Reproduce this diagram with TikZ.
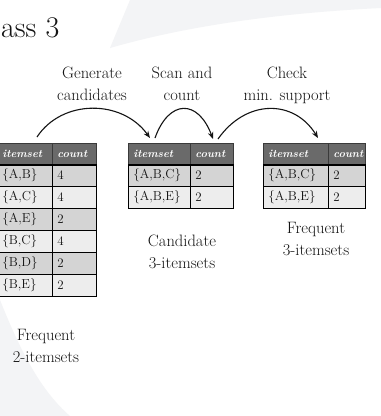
\documentclass[tikz,border=0pt]{standalone}
\usetikzlibrary{arrows.meta}
\definecolor{ink}{HTML}{141414}
\definecolor{hdr}{HTML}{6A6A6A}
\definecolor{hdrline}{HTML}{3A3A3A}
\definecolor{rowdark}{HTML}{D4D4D4}
\definecolor{rowlight}{HTML}{EDEDED}
\definecolor{swoosh}{HTML}{F3F4F6}
\begin{document}
\begin{tikzpicture}[x=1pt,y=-1pt,
  cellbase/.style={draw=black, line width=0.7pt, anchor=north west,
    inner xsep=5pt, inner ysep=0pt, align=left, text=ink,
    font=\fontsize{13}{13}\selectfont},
  hcell/.style={cellbase, fill=hdr, draw=hdrline, text=white,
    font=\fontsize{11}{11}\selectfont\bfseries\itshape, minimum height=21pt},
  bcell/.style={cellbase, minimum height=22pt},
  rule/.style={line width=2.2pt, black},
  lbl/.style={anchor=base, inner sep=0pt, text=ink,
    font=\fontsize{16.5}{20}\selectfont},
  flow/.style={line width=1.1pt, ink, -{Stealth[length=7pt,width=5.5pt]}}]

\useasboundingbox (0,0) rectangle (381,416);
\clip (0,0) rectangle (381,416);

% faint slide background swooshes
\fill[white] (0,0) rectangle (381,416);
\fill[swoosh] (130,0) -- (381,0) -- (381,8)
  .. controls (300,12) and (200,22) .. (110,48) -- cycle;
\fill[swoosh] (0,300) .. controls (20,350) and (40,390) .. (70,416) -- (0,416) -- cycle;

% slide title
\node[anchor=base west, inner sep=0pt, text=ink, font=\fontsize{30}{36}\selectfont]
  (title) at (1,37) {ass 3};

% frequent 2-itemsets table
\node[hcell, text width=45pt] (L-h1) at (-3,143) {itemset};
\node[hcell, text width=34pt] (L-h2) at (52,143) {count};
\foreach \itm/\num/\shade [count=\i from 0] in
  {{\{A,B\}}/4/rowdark, {\{A,C\}}/4/rowlight, {\{A,E\}}/2/rowdark,
   {\{B,C\}}/4/rowlight, {\{B,D\}}/2/rowdark, {\{B,E\}}/2/rowlight} {
  \node[bcell, text width=45pt, fill=\shade] (L-r\i-a) at (-3,164+22*\i) {\itm};
  \node[bcell, text width=34pt, fill=\shade] (L-r\i-b) at (52,164+22*\i) {\num};
}
\draw[rule] (L-h1.south west) -- (L-h2.south east);

% candidate 3-itemsets table
\node[hcell, text width=52pt] (M-h1) at (128,143) {itemset};
\node[hcell, text width=33pt] (M-h2) at (190,143) {count};
\foreach \itm/\num/\shade [count=\i from 0] in
  {{\{A,B,C\}}/2/rowdark, {\{A,B,E\}}/2/rowlight} {
  \node[bcell, text width=52pt, fill=\shade] (M-r\i-a) at (128,164+22*\i) {\itm};
  \node[bcell, text width=33pt, fill=\shade] (M-r\i-b) at (190,164+22*\i) {\num};
}
\draw[rule] (M-h1.south west) -- (M-h2.south east);

% frequent 3-itemsets table
\node[hcell, text width=55pt] (R-h1) at (263,143) {itemset};
\node[hcell, text width=27pt] (R-h2) at (328,143) {count};
\foreach \itm/\num/\shade [count=\i from 0] in
  {{\{A,B,C\}}/2/rowdark, {\{A,B,E\}}/2/rowlight} {
  \node[bcell, text width=55pt, fill=\shade] (R-r\i-a) at (263,164+22*\i) {\itm};
  \node[bcell, text width=27pt, fill=\shade] (R-r\i-b) at (328,164+22*\i) {\num};
}
\draw[rule] (R-h1.south west) -- (R-h2.south east);

% step labels
\node[lbl] (gen1) at (92,78) {Generate};
\node[lbl] (gen2) at (92,100) {candidates};
\node[lbl] (scan1) at (182,78) {Scan and};
\node[lbl] (scan2) at (182,100) {count};
\node[lbl] (chk1) at (287,78) {Check};
\node[lbl] (chk2) at (287,100) {min. support};

% table captions
\node[lbl] (capL1) at (46,340) {Frequent};
\node[lbl] (capL2) at (46,362) {2-itemsets};
\node[lbl] (capM1) at (182,246) {Candidate};
\node[lbl] (capM2) at (182,268) {3-itemsets};
\node[lbl] (capR1) at (316,233) {Frequent};
\node[lbl] (capR2) at (316,255) {3-itemsets};

% arrow end points above the tables
\coordinate (a1s) at (37,137);
\coordinate (a1e) at (150,138);
\coordinate (a2s) at (155,138);
\coordinate (a2e) at (213,139);
\coordinate (a3s) at (218,139);
\coordinate (a3e) at (318,138);

\draw[flow] (a1s) .. controls (62,99) and (122,99) .. (a1e);
\draw[flow] (a2s) .. controls (169,99) and (198,99) .. (a2e);
\draw[flow] (a3s) .. controls (246,99) and (294,99) .. (a3e);
\end{tikzpicture}
\end{document}
